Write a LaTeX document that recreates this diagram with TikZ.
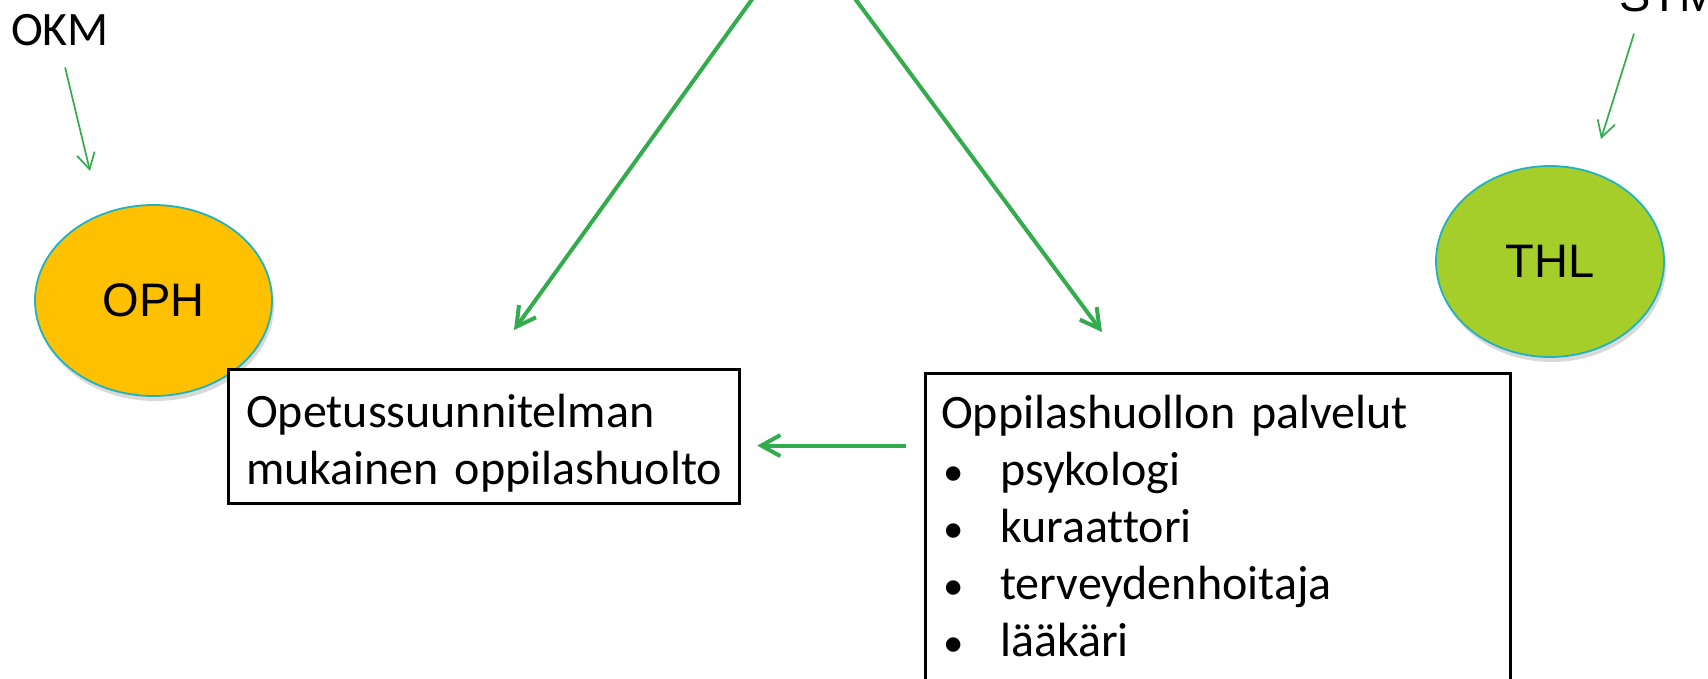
\documentclass[tikz,border=0pt]{standalone}
\usepackage{fontspec}
\setmainfont{Carlito}[Ligatures=NoCommon]
\newfontfamily\arialfont{Liberation Sans}
\usetikzlibrary{arrows.meta,shapes.geometric,shadows}
\definecolor{ophyellow}{RGB}{255,192,0}
\definecolor{thlgreen}{RGB}{166,206,42}
\definecolor{rimteal}{RGB}{32,178,192}
\definecolor{arrowgreen}{RGB}{50,172,76}
\newcommand{\listdot}{\makebox[59pt][l]{\hspace{2.5pt}\scalebox{0.85}{\textbullet}}}
\tikzset{
  bigarrow/.style={draw=arrowgreen,line width=4pt,-{Straight Barb[length=19pt,width=21pt]}},
  smallarrow/.style={draw=arrowgreen,line width=1.7pt,-{Straight Barb[length=16pt,width=18pt]}},
  agency/.style={ellipse,draw=rimteal,line width=1.8pt,inner sep=0pt,
    font=\arialfont\fontsize{47}{56}\selectfont,
    drop shadow={shadow xshift=2pt,shadow yshift=-5pt,opacity=0.3}},
  carebox/.style={draw,line width=3.2pt,fill=white,anchor=north west,align=left,
    inner ysep=0pt,font=\fontsize{48}{57}\selectfont},
  tag/.style={inner sep=0pt,anchor=base west}
}
\begin{document}
\begin{tikzpicture}[x=1pt,y=-1pt]
      \useasboundingbox (0,0) rectangle (1708,679);
      \clip (0,0) rectangle (1708,679);
      \node[tag,font=\fontsize{48}{57}\selectfont] (okm) at (11,46) {OKM};
      \node[tag,font=\arialfont\fontsize{47}{56}\selectfont] (stm) at (1619,12) {STM};
      \node[agency,fill=ophyellow,minimum width=237pt,minimum height=191pt] (oph) at (153.5,300.5) {OPH};
      \node[agency,fill=thlgreen,minimum width=228pt,minimum height=191pt] (thl) at (1550,261.5) {THL};
      \node[carebox,inner xsep=17.5pt,text width=476pt,text height=57.5pt,text depth=76.5pt] (ops) at (227,368)
        {Opetussuunnitelman\\\mbox{mukainen oppilashuolto}};
      \node[carebox,inner xsep=15.5pt,text width=554pt,text height=54.5pt,text depth=280pt] (palv) at (924,372)
        {Oppilashuollon palvelut\\\listdot psykologi\\\listdot kuraattori\\\listdot terveydenhoitaja\\\listdot lääkäri};
      \coordinate (top) at (803,-71.5);
      \coordinate (opstip) at (514,330);
      \coordinate (palvtip) at (1102,332);
      \coordinate (okmtip) at (90,171);
      \coordinate (stmtip) at (1601,139);
      \coordinate (h1) at ([yshift=-9pt]ops.east);
      \draw[bigarrow] (top) -- (opstip);
      \draw[bigarrow] (top) -- (palvtip);
      \draw[bigarrow,shorten <=18pt,shorten >=16pt] (h1 -| palv.west) -- (h1);
      \draw[smallarrow,shorten <=21.5pt] (okm.south) -- (okmtip);
      \draw[smallarrow] ([xshift=15pt,yshift=-21pt]stm.south west) -- (stmtip);
\end{tikzpicture}
\end{document}
